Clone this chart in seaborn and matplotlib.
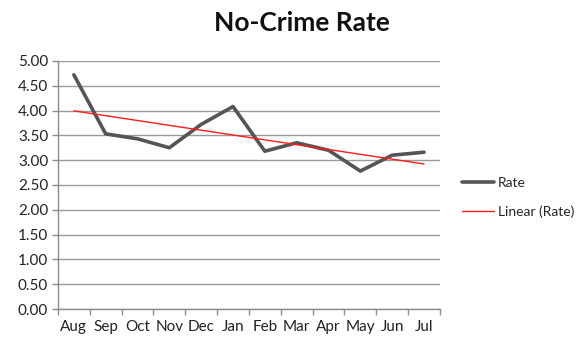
import matplotlib
matplotlib.use("Agg")

import matplotlib.pyplot as plt
import numpy as np
import pandas as pd
import seaborn as sns


months = ["Aug", "Sep", "Oct", "Nov", "Dec", "Jan",
          "Feb", "Mar", "Apr", "May", "Jun", "Jul"]

rates = [4.72, 3.53, 3.43, 3.25, 3.72, 4.08,
         3.18, 3.35, 3.20, 2.78, 3.10, 3.16]

y_ticks = [0.0, 0.5, 1.0, 1.5, 2.0, 2.5, 3.0, 3.5, 4.0, 4.5, 5.0]


# -------------------------------------------------
# Data and linear trend (least squares, like Excel)
# -------------------------------------------------

df = pd.DataFrame({"month": months, "rate": rates})
df["pos"] = np.arange(len(df))

slope, intercept = np.polyfit(df["pos"], df["rate"], 1)
df["trend"] = intercept + slope * df["pos"]


# -------------------------------------------------
# Plot
# -------------------------------------------------

sns.set_theme(style="white")
plt.rcParams["font.family"] = ["Lato", "DejaVu Sans"]

fig = plt.figure(figsize=(5.85, 3.48), dpi=100)
ax = fig.add_axes([0.099, 0.112, 0.653, 0.713])

ax.grid(axis="y", color="#9a9a9a", linewidth=1.0)
ax.set_axisbelow(True)

sns.lineplot(
    data=df,
    x="pos",
    y="rate",
    color="#555555",
    linewidth=2.6,
    label="Rate",
    ax=ax
)

sns.lineplot(
    data=df,
    x="pos",
    y="trend",
    color="#ff1a1a",
    linewidth=1.0,
    label="Linear (Rate)",
    ax=ax
)

ax.set_xlim(-0.5, len(months) - 0.5)
ax.set_ylim(0, 5)

ax.set_xticks(df["pos"])
ax.set_xticklabels(months)
ax.set_xticks(np.arange(-0.5, len(months)), minor=True)
ax.tick_params(axis="x", which="major", length=0, pad=8,
               labelsize=11, colors="#222222")
ax.tick_params(axis="x", which="minor", length=4, width=1,
               color="#8c8c8c", bottom=True)

ax.set_yticks(y_ticks)
ax.set_yticklabels([f"{v:.2f}" for v in y_ticks])
ax.tick_params(axis="y", length=4, width=1, color="#8c8c8c",
               left=True, labelsize=11, colors="#222222", pad=3)

for side in ["top", "right"]:
    ax.spines[side].set_visible(False)
for side in ["left", "bottom"]:
    ax.spines[side].set_color("#8c8c8c")
    ax.spines[side].set_linewidth(1.0)

ax.set_xlabel("")
ax.set_ylabel("")

ax.legend(
    loc="center left",
    bbox_to_anchor=(1.025, 0.45),
    frameon=False,
    fontsize=10,
    handlelength=2.3,
    handletextpad=0.3,
    labelspacing=1.15
)

fig.text(0.516, 0.935, "No-Crime Rate", ha="center", va="center",
         fontsize=19, fontweight="bold", color="#111111")

fig.savefig("out.png", dpi=100)
plt.close(fig)
